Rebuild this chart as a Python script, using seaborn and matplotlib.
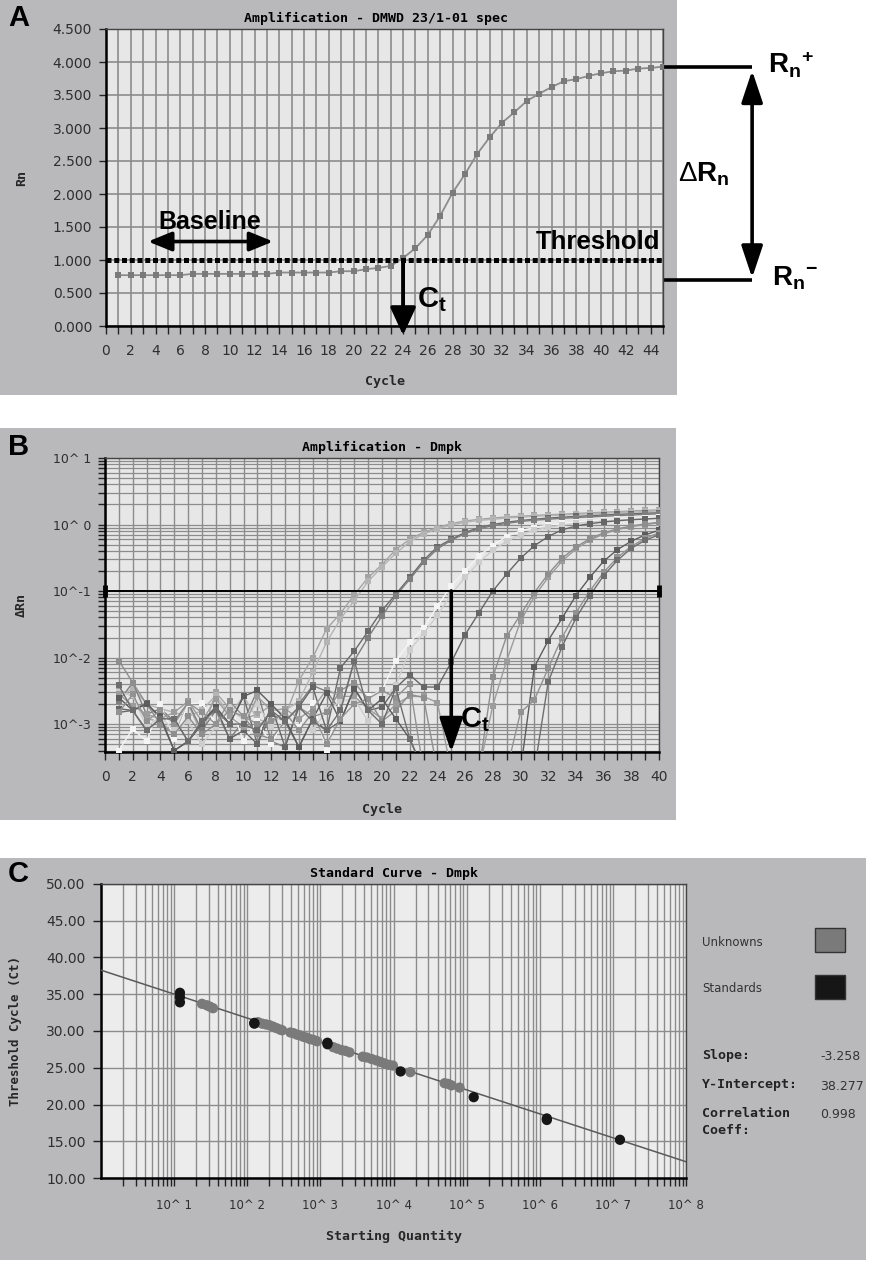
import numpy as np
import pandas as pd
import matplotlib
matplotlib.use("Agg")
import matplotlib.pyplot as plt
import matplotlib.transforms as mtransforms
from matplotlib.patches import Rectangle
from matplotlib.ticker import (MultipleLocator, FixedLocator, FixedFormatter,
                               LogLocator, NullFormatter, FormatStrFormatter)
import seaborn as sns

# ============================ DATA ============================
# ---- Panel A : amplification plot (linear) ----
a_cycles = list(range(1, 46))
a_rn = [0.77, 0.77, 0.77, 0.77, 0.77, 0.77, 0.79, 0.79, 0.79, 0.79,
        0.79, 0.79, 0.79, 0.81, 0.81, 0.81, 0.81, 0.81, 0.83, 0.83,
        0.86, 0.88, 0.91, 1.03, 1.18, 1.38, 1.67, 2.02, 2.30, 2.61,
        2.86, 3.08, 3.24, 3.41, 3.52, 3.62, 3.71, 3.74, 3.79, 3.83,
        3.86, 3.87, 3.90, 3.91, 3.93]
a_threshold = 1.0
a_ct = 24
a_rn_plus = 3.92
a_rn_minus = 0.70
a_title = "Amplification - DMWD 23/1-01 spec"

# ---- Panel B : amplification plot (log), 12 wells ----
b_cycles = list(range(1, 41))
b_w1 = [3.3e-3, 2.6e-3, 1.2e-3, 1.1e-3, 7.0e-4, 2.0e-3, 7.0e-4, 3.0e-3, 1.7e-3, 1.2e-3,
        1.4e-3, 1.9e-3, 1.3e-3, 4.5e-3, 1.0e-2, 2.7e-2, 4.6e-2, 8.8e-2, 0.16, 0.25,
        0.42, 0.60, 0.76, 0.90, 1.03, 1.13, 1.20, 1.25, 1.30, 1.33,
        1.37, 1.40, 1.43, 1.46, 1.50, 1.53, 1.56, 1.60, 1.63, 1.66]
b_w2 = [2.4e-3, 3.5e-3, 2.0e-3, 1.7e-3, 1.5e-3, 1.3e-3, 1.6e-3, 2.7e-3, 1.4e-3, 2.6e-3,
        1.2e-3, 1.0e-3, 1.6e-3, 2.2e-3, 6.0e-3, 1.7e-2, 3.8e-2, 7.2e-2, 0.14, 0.23,
        0.37, 0.55, 0.72, 0.86, 0.98, 1.08, 1.15, 1.20, 1.25, 1.29,
        1.33, 1.36, 1.39, 1.42, 1.45, 1.48, 1.51, 1.54, 1.57, 1.60]
b_w3 = [1.5e-3, 1.6e-3, 2.1e-3, 1.2e-3, 1.2e-3, 5.5e-4, 1.0e-3, 1.8e-3, 1.0e-3, 2.6e-3,
        5.0e-4, 1.4e-3, 1.1e-3, 4.5e-4, 1.2e-3, 8.0e-4, 7.0e-3, 1.25e-2, 2.5e-2, 5.1e-2,
        9.0e-2, 0.16, 0.29, 0.46, 0.60, 0.76, 0.90, 1.00, 1.08, 1.15,
        1.20, 1.25, 1.29, 1.32, 1.36, 1.39, 1.42, 1.45, 1.48, 1.50]
b_w4 = [2.2e-3, 4.2e-3, 1.4e-3, 1.7e-3, 1.1e-3, 2.1e-3, 8.0e-4, 1.6e-3, 6.0e-4, 1.1e-3,
        3.2e-3, 5.5e-4, 4.5e-4, 2.0e-3, 3.8e-3, 3.1e-3, 1.6e-3, 9.0e-3, 2.0e-2, 4.2e-2,
        8.5e-2, 0.15, 0.27, 0.43, 0.58, 0.73, 0.86, 0.96, 1.04, 1.11,
        1.16, 1.20, 1.24, 1.27, 1.30, 1.33, 1.36, 1.39, 1.42, 1.45]
b_w5 = [4.0e-4, 8.5e-4, 5.5e-4, 2.0e-3, 6.0e-4, 2.0e-3, 2.1e-3, 1.0e-3, 2.1e-3, 5.5e-4,
        1.1e-3, 5.0e-4, 1.2e-3, 9.0e-4, 2.1e-3, 4.0e-4, 2.5e-3, 2.5e-3, 2.6e-3, 3.2e-3,
        9.0e-3, 1.7e-2, 2.8e-2, 5.9e-2, 0.12, 0.20, 0.34, 0.48, 0.66, 0.80,
        0.90, 0.98, 1.04, 1.09, 1.13, 1.17, 1.20, 1.23, 1.26, 1.28]
b_w6 = [3.0e-3, 2.7e-3, 9.0e-4, 1.3e-3, 8.0e-4, 1.1e-3, 5.0e-4, 9.0e-4, 1.8e-3, 1.2e-3,
        2.0e-3, 9.0e-4, 1.6e-3, 8.0e-4, 8.0e-4, 1.6e-3, 2.2e-3, 2.4e-3, 1.1e-3, 2.2e-3,
        3.8e-3, 1.3e-2, 2.3e-2, 4.3e-2, 9.0e-2, 0.16, 0.27, 0.41, 0.56, 0.70,
        0.82, 0.91, 0.98, 1.04, 1.09, 1.13, 1.17, 1.20, 1.22, 1.25]
b_w7 = [1.7e-3, 1.6e-3, 8.0e-4, 1.2e-3, 4.0e-4, 5.5e-4, 1.0e-3, 1.8e-3, 6.0e-4, 8.0e-4,
        5.0e-4, 1.9e-3, 4.5e-4, 1.8e-3, 3.6e-3, 8.0e-4, 1.1e-3, 3.5e-3, 1.6e-3, 1.8e-3,
        3.5e-3, 5.5e-3, 3.6e-3, 3.6e-3, 8.5e-3, 2.2e-2, 4.7e-2, 0.10, 0.18, 0.31,
        0.48, 0.66, 0.83, 0.95, 1.03, 1.09, 1.14, 1.18, 1.21, 1.24]
b_w8 = [2.8e-3, 1.9e-3, 1.4e-3, 1.2e-3, 1.5e-3, 2.2e-3, 1.1e-3, 2.4e-3, 1.3e-3, 9.0e-4,
        2.6e-3, 1.6e-3, 1.7e-3, 1.2e-3, 1.7e-3, 3.3e-3, 2.6e-3, 2.6e-3, 1.7e-3, 1.2e-3,
        2.0e-3, 2.6e-3, 2.6e-3, 2.1e-3, 2.0e-4, 2.0e-4, 2.0e-4, 1.9e-3, 9.0e-3, 3.5e-2,
        8.3e-2, 0.16, 0.28, 0.43, 0.58, 0.72, 0.84, 0.93, 1.00, 1.06]
b_w9 = [9.0e-3, 4.2e-3, 2.0e-3, 1.0e-3, 7.0e-4, 1.3e-3, 7.0e-4, 1.0e-3, 2.2e-3, 1.3e-3,
        7.0e-4, 6.0e-4, 1.1e-3, 1.8e-3, 1.3e-3, 1.5e-3, 3.2e-3, 4.2e-3, 2.4e-3, 1.1e-3,
        1.6e-3, 2.8e-3, 2.5e-3, 2.0e-4, 2.0e-4, 2.0e-4, 2.0e-4, 5.1e-3, 2.1e-2, 4.4e-2,
        9.5e-2, 0.18, 0.31, 0.46, 0.61, 0.75, 0.86, 0.95, 1.02, 1.08]
b_w10 = [2.5e-3, 1.6e-3, 2.0e-3, 1.3e-3, 4.0e-4, 5.5e-4, 1.1e-3, 1.8e-3, 1.0e-3, 2.6e-3,
         3.2e-3, 2.0e-3, 1.2e-3, 4.5e-4, 1.2e-3, 2.9e-3, 1.1e-3, 3.4e-3, 1.6e-3, 2.4e-3,
         1.2e-3, 6.0e-4, 2.0e-4, 2.0e-4, 2.0e-4, 2.0e-4, 2.0e-4, 2.0e-4, 2.0e-4, 2.0e-4,
         7.2e-3, 1.8e-2, 3.9e-2, 8.5e-2, 0.16, 0.28, 0.42, 0.56, 0.70, 0.82]
b_w11 = [1.5e-3, 2.8e-3, 1.1e-3, 1.6e-3, 1.0e-3, 2.1e-3, 1.5e-3, 1.0e-3, 1.6e-3, 1.3e-3,
         1.0e-3, 1.1e-3, 1.5e-3, 8.0e-4, 1.5e-3, 5.0e-4, 1.2e-3, 2.0e-3, 2.4e-3, 3.2e-3,
         2.5e-3, 4.0e-3, 2.0e-4, 2.0e-4, 2.0e-4, 2.0e-4, 2.0e-4, 2.0e-4, 2.0e-4, 1.5e-3,
         2.3e-3, 6.9e-3, 2.0e-2, 4.7e-2, 0.10, 0.19, 0.32, 0.47, 0.62, 0.75]
b_w12 = [3.8e-3, 1.6e-3, 8.0e-4, 1.2e-3, 1.2e-3, 5.5e-4, 1.1e-3, 1.6e-3, 1.0e-3, 1.0e-3,
         8.0e-4, 1.6e-3, 1.1e-3, 1.8e-3, 1.1e-3, 8.0e-4, 1.6e-3, 9.0e-3, 1.6e-3, 1.0e-3,
         3.5e-3, 6.0e-4, 2.0e-4, 2.0e-4, 2.0e-4, 2.0e-4, 2.0e-4, 2.0e-4, 2.0e-4, 2.0e-4,
         2.0e-4, 4.3e-3, 1.45e-2, 3.9e-2, 8.5e-2, 0.17, 0.29, 0.44, 0.58, 0.70]
b_wells = ["w1", "w2", "w3", "w4", "w5", "w6", "w7", "w8", "w9", "w10", "w11", "w12"]
b_values = [b_w1, b_w2, b_w3, b_w4, b_w5, b_w6, b_w7, b_w8, b_w9, b_w10, b_w11, b_w12]
b_colors = ["#a4a4a4", "#b4b4b4", "#6a6a6a", "#7e7e7e", "#f4f4f4", "#cdcdcd",
            "#666666", "#9c9c9c", "#8e8e8e", "#5c5c5c", "#929292", "#6e6e6e"]
b_threshold = 0.1
b_ct = 25
b_ytick_values = [1e-3, 1e-2, 1e-1, 1e0, 1e1]
b_ytick_labels = ["10^-3", "10^-2", "10^-1", "10^ 0", "10^ 1"]
b_title = "Amplification - Dmpk"

# ---- Panel C : standard curve ----
c_std_qty = [12, 12, 12, 125, 125, 1250, 1250, 12500, 125000, 1.25e6, 1.25e6, 1.25e7]
c_std_ct = [35.2, 34.6, 33.9, 31.1, 31.0, 28.4, 28.2, 24.5, 21.0, 18.1, 17.9, 15.2]
c_unk_qty = [24, 28, 31, 34,
             140, 160, 180, 200, 225, 250, 280, 300,
             390, 430, 480, 530, 590, 650, 720, 800, 900,
             1500, 1700, 1950, 2200, 2500,
             3800, 4300, 5000, 5800, 6600, 7500, 8600, 9800,
             17000, 50000, 56000, 62000, 80000]
c_unk_ct = [33.7, 33.5, 33.3, 33.1,
            31.2, 31.0, 30.9, 30.8, 30.6, 30.4, 30.2, 30.1,
            29.8, 29.7, 29.5, 29.4, 29.2, 29.1, 28.9, 28.8, 28.6,
            27.8, 27.6, 27.4, 27.3, 27.1,
            26.5, 26.4, 26.2, 26.0, 25.8, 25.6, 25.4, 25.3,
            24.4, 22.9, 22.8, 22.6, 22.3]
c_slope = -3.258
c_intercept = 38.277
c_corr = 0.998
c_xtick_values = [1e1, 1e2, 1e3, 1e4, 1e5, 1e6, 1e7, 1e8]
c_xtick_labels = ["10^ 1", "10^ 2", "10^ 3", "10^ 4", "10^ 5", "10^ 6", "10^ 7", "10^ 8"]
c_title = "Standard Curve - Dmpk"

# ============================ STYLE ============================
sns.set_style("white")
plt.rcParams["font.family"] = ["DejaVu Sans"]
plt.rcParams["text.color"] = "black"
plt.rcParams["mathtext.fontset"] = "custom"
plt.rcParams["mathtext.rm"] = "Liberation Sans"
plt.rcParams["mathtext.bf"] = "Liberation Sans:bold"
plt.rcParams["mathtext.it"] = "Liberation Sans:italic"

W, H = 876, 1267
PANEL = "#b9b9bb"
PLOT_BG = "#e7e7e7"
GRID = "#8c8c8c"
TICKC = "#2e2e2e"
MONO = "DejaVu Sans Mono"
ARIAL = "Liberation Sans"

fig = plt.figure(figsize=(W / 100, H / 100), dpi=100)
fig.patch.set_facecolor("white")


def fx(x):
    return x / W


def fy(y):
    return 1 - y / H


def panel(x0, y0, x1, y1):
    fig.patches.append(Rectangle((fx(x0), fy(y1)), fx(x1) - fx(x0), fy(y0) - fy(y1),
                                 transform=fig.transFigure, facecolor=PANEL,
                                 edgecolor="none", zorder=-5))


def add_ax(l, t, r, b):
    return fig.add_axes([fx(l), fy(b), fx(r) - fx(l), fy(t) - fy(b)])


def style(ax):
    ax.set_facecolor(PLOT_BG)
    for s in ["left", "bottom"]:
        ax.spines[s].set_linewidth(1.8)
        ax.spines[s].set_color("black")
    for s in ["top", "right"]:
        ax.spines[s].set_linewidth(1.0)
        ax.spines[s].set_color("#444444")
    ax.tick_params(which="both", direction="out", color="#222222",
                   labelcolor=TICKC, labelsize=10, width=1.0, length=5, pad=5,
                   left=True, bottom=True)
    ax.set_axisbelow(True)


panel(0, 0, 677, 395)
panel(0, 428, 676, 820)
panel(0, 858, 866, 1260)

# ============================ PANEL A ============================
axA = add_ax(106, 29, 663, 326)
style(axA)
axA.set_xlim(0, 45)
axA.set_ylim(0, 4.5)
axA.xaxis.set_major_locator(MultipleLocator(2))
axA.xaxis.set_minor_locator(MultipleLocator(1))
axA.yaxis.set_major_locator(MultipleLocator(0.5))
axA.yaxis.set_major_formatter(FormatStrFormatter("%.3f"))
axA.grid(which="both", axis="x", color=GRID, lw=1.2)
axA.grid(which="major", axis="y", color=GRID, lw=1.2)
axA.tick_params(axis="x", which="both", length=6, pad=7)

sns.lineplot(x=a_cycles, y=a_rn, ax=axA, color="#8c8c8c", lw=1.3, marker="s",
             markersize=5, markerfacecolor="#7a7a7a", markeredgewidth=0, zorder=3)
axA.axhline(a_threshold, color="black", lw=3.6, linestyle=(0, (1, 0.55)), zorder=4)

axA.set_title(a_title, fontfamily=MONO, fontweight="bold", fontsize=9.5, pad=5, x=0.485)
axA.set_xlabel("Cycle", fontfamily=MONO, fontweight="bold", fontsize=9.5)
axA.set_ylabel("Rn", fontfamily=MONO, fontweight="bold", fontsize=9.5)
axA.xaxis.set_label_coords(0.5, -0.165)
axA.yaxis.set_label_coords(-0.14, 0.5)

# Baseline annotation
axA.annotate("", xy=(13.5, 1.28), xytext=(3.4, 1.28),
             arrowprops=dict(arrowstyle="<|-|>,head_length=1.1,head_width=0.45",
                             lw=2.6, color="black", shrinkA=0, shrinkB=0,
                             mutation_scale=13), zorder=5)
axA.text(8.4, 1.58, "Baseline", ha="center", va="center", fontsize=18,
         fontweight="bold", fontfamily=ARIAL, zorder=5)
axA.text(44.8, 1.27, "Threshold", ha="right", va="center", fontsize=18.5,
         fontweight="bold", fontfamily=ARIAL, zorder=5)
# Ct arrow
axA.annotate("", xy=(a_ct, -0.14), xytext=(a_ct, a_threshold),
             arrowprops=dict(arrowstyle="-|>,head_length=1.3,head_width=0.6",
                             lw=2.8, color="black", shrinkA=0, shrinkB=0,
                             mutation_scale=13), annotation_clip=False, zorder=6)
axA.text(a_ct + 1.15, 0.40, r"$\mathbf{C_t}$", ha="left", va="center", fontsize=21, zorder=6)

# Rn+/Rn- bracket outside the plot
blendA = mtransforms.blended_transform_factory(axA.transAxes, axA.transData)
for yv in (a_rn_plus, a_rn_minus):
    axA.plot([1.0, 1.16], [yv, yv], color="black", lw=2.6, transform=blendA,
             clip_on=False, solid_capstyle="butt")
axA.annotate("", xy=(1.16, a_rn_plus - 0.05), xytext=(1.16, a_rn_minus + 0.03),
             xycoords=blendA, textcoords=blendA,
             arrowprops=dict(arrowstyle="<|-|>,head_length=1.5,head_width=0.5",
                             lw=2.6, color="black", shrinkA=0, shrinkB=0,
                             mutation_scale=13), annotation_clip=False)
axA.text(1.188, a_rn_plus + 0.03, r"$\mathbf{R_n}^{\mathbf{+}}$", transform=blendA,
         ha="left", va="center", fontsize=20)
axA.text(1.195, a_rn_minus + 0.03, r"$\mathbf{R_n}^{\mathbf{-}}$", transform=blendA,
         ha="left", va="center", fontsize=20)
axA.text(1.027, (a_rn_plus + a_rn_minus) / 2, r"$\Delta\mathbf{R_n}$",
         transform=blendA, ha="left", va="center", fontsize=20)

# ============================ PANEL B ============================
axB = add_ax(105, 458, 659, 752)
style(axB)
axB.set_yscale("log")
axB.set_xlim(0, 40)
axB.set_ylim(3.8e-4, 10)
axB.xaxis.set_major_locator(MultipleLocator(2))
axB.xaxis.set_minor_locator(MultipleLocator(1))
axB.yaxis.set_major_locator(FixedLocator(b_ytick_values))
axB.yaxis.set_major_formatter(FixedFormatter(b_ytick_labels))
axB.yaxis.set_minor_locator(LogLocator(base=10, subs=np.arange(2, 10), numticks=20))
axB.yaxis.set_minor_formatter(NullFormatter())
axB.grid(which="both", axis="x", color=GRID, lw=1.0)
axB.grid(which="both", axis="y", color=GRID, lw=0.9)
axB.tick_params(axis="x", which="both", length=6, pad=7)
axB.tick_params(axis="y", which="both", length=5, labelsize=9)

b_df = pd.DataFrame({
    "cycle": np.tile(b_cycles, len(b_wells)),
    "drn": np.concatenate([np.asarray(v, dtype=float) for v in b_values]),
    "well": np.repeat(b_wells, len(b_cycles)),
})
sns.lineplot(data=b_df, x="cycle", y="drn", hue="well", palette=b_colors,
             hue_order=b_wells, marker="s", markersize=4.6, markeredgewidth=0,
             lw=1.0, estimator=None, legend=False, ax=axB, zorder=3)

axB.plot([0, 40], [b_threshold, b_threshold], color="black", lw=1.4, zorder=4)
axB.plot([0, 40], [b_threshold, b_threshold], ls="none", marker="|", ms=8, mew=3.5,
         color="black", clip_on=False, zorder=5)
axB.annotate("", xy=(b_ct, 3.8e-4), xytext=(b_ct, b_threshold),
             arrowprops=dict(arrowstyle="-|>,head_length=1.6,head_width=0.55",
                             lw=2.6, color="black", shrinkA=0, shrinkB=0,
                             mutation_scale=13), annotation_clip=False, zorder=6)
axB.text(b_ct + 0.6, 1.15e-3, r"$\mathbf{C_t}$", ha="left", va="center", fontsize=21, zorder=6)

axB.set_title(b_title, fontfamily=MONO, fontweight="bold", fontsize=9.5, pad=5)
axB.set_xlabel("Cycle", fontfamily=MONO, fontweight="bold", fontsize=9.5)
axB.set_ylabel("\u0394Rn", fontfamily=MONO, fontweight="bold", fontsize=9.5)
axB.xaxis.set_label_coords(0.5, -0.175)
axB.yaxis.set_label_coords(-0.14, 0.5)

# ============================ PANEL C ============================
axC = add_ax(101, 884, 686, 1178)
style(axC)
axC.set_facecolor("#ececec")
axC.set_xscale("log")
axC.set_xlim(1, 1e8)
axC.set_ylim(10, 50)
axC.xaxis.set_major_locator(FixedLocator(c_xtick_values))
axC.xaxis.set_major_formatter(FixedFormatter(c_xtick_labels))
axC.xaxis.set_minor_locator(LogLocator(base=10, subs=np.arange(2, 10), numticks=20))
axC.xaxis.set_minor_formatter(NullFormatter())
axC.yaxis.set_major_locator(MultipleLocator(5))
axC.yaxis.set_major_formatter(FormatStrFormatter("%.2f"))
axC.grid(which="both", axis="x", color=GRID, lw=1.0)
axC.grid(which="major", axis="y", color=GRID, lw=1.0)
axC.tick_params(axis="x", which="both", length=6, pad=9, labelsize=8.5)
axC.tick_params(axis="y", which="major", length=6)

fit_x = np.array(axC.get_xlim())
fit_y = c_intercept + c_slope * np.log10(fit_x)
axC.plot(fit_x, fit_y, color="#5a5a5a", lw=1.1, zorder=3)
sns.scatterplot(x=c_unk_qty, y=c_unk_ct, color="#7a7a7a", s=55, edgecolor="none",
                ax=axC, zorder=4)
sns.scatterplot(x=c_std_qty, y=c_std_ct, color="#161616", s=55, edgecolor="none",
                ax=axC, zorder=5)

axC.set_title(c_title, fontfamily=MONO, fontweight="bold", fontsize=9.5, pad=5)
axC.set_xlabel("Starting Quantity", fontfamily=MONO, fontweight="bold", fontsize=9.5)
axC.set_ylabel("Threshold Cycle (Ct)", fontfamily=MONO, fontweight="bold", fontsize=9)
axC.xaxis.set_label_coords(0.5, -0.175)
axC.yaxis.set_label_coords(-0.135, 0.5)

# legend / statistics block
fig.text(fx(702), fy(942), "Unknowns", fontsize=8.5, color="#333333", va="center")
fig.text(fx(702), fy(988), "Standards", fontsize=8.5, color="#333333", va="center")
fig.patches.append(Rectangle((fx(815), fy(952)), fx(845) - fx(815), fy(928) - fy(952),
                             transform=fig.transFigure, facecolor="#7a7a7a",
                             edgecolor="#333333", lw=1, zorder=2))
fig.patches.append(Rectangle((fx(815), fy(999)), fx(845) - fx(815), fy(975) - fy(999),
                             transform=fig.transFigure, facecolor="#161616",
                             edgecolor="#333333", lw=1, zorder=2))
stats = [("Slope:", f"{c_slope:.3f}", 1057), ("Y-Intercept:", f"{c_intercept:.3f}", 1086),
         ("Correlation\nCoeff:", f"{c_corr:.3f}", 1115)]
for lab, val, yy in stats:
    fig.text(fx(702), fy(yy - 8), lab, fontfamily=MONO, fontweight="bold", fontsize=9.5,
             color="#222222", va="top", linespacing=1.35)
    fig.text(fx(820), fy(yy), val, fontsize=9, color="#333333", va="center")

# panel letters
for letter, yy in (("A", 18), ("B", 447), ("C", 874)):
    fig.text(fx(8), fy(yy), letter, fontsize=21, fontweight="bold", fontfamily=ARIAL,
             va="center", ha="left", color="black")

fig.savefig("out.png", dpi=100, facecolor=fig.get_facecolor())
